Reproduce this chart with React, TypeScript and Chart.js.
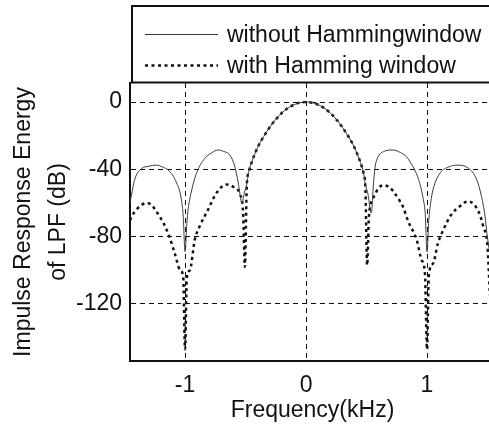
import { useEffect, useRef } from 'react';
import { Chart, registerables } from 'chart.js';

Chart.register(...registerables);

// Frequency (kHz) and energy (dB) of the rectangular-window LPF response
const freqSolid = [
  -1.47, -1.445, -1.416, -1.36, -1.3, -1.237, -1.18, -1.14, -1.07, -1.03, -1.015, -1.0, -0.985, -0.975,
  -0.95, -0.906, -0.837, -0.78, -0.727, -0.68, -0.63, -0.59, -0.56, -0.53, -0.51, -0.49, -0.475, -0.45,
  -0.4, -0.35, -0.3, -0.25, -0.2, -0.15, -0.1, -0.05, 0, 0.05, 0.1, 0.15, 0.2, 0.25, 0.3, 0.35, 0.4,
  0.45, 0.475, 0.49, 0.51, 0.54, 0.556, 0.57, 0.584, 0.64, 0.72, 0.78, 0.82, 0.86, 0.93, 0.97, 0.985,
  1.0, 1.015, 1.03, 1.05, 1.11, 1.18, 1.245, 1.34, 1.41, 1.45, 1.48, 1.495, 1.515,
];
const solidDb = [
  -66, -56, -46, -39.6, -38.2, -37.5, -38.8, -40.4, -48, -58, -68, -89, -72, -64,
  -54, -42.4, -33.5, -30.2, -28.5, -29.4, -31.5, -38, -48, -60, -54, -49, -42, -36,
  -27, -20.5, -15, -10.3, -6.5, -3.6, -1.6, -0.4, 0, -0.4, -1.6, -3.6, -6.5, -10.3, -15, -20.5, -27,
  -36, -42, -49, -54, -66, -50, -39, -34.5, -29.5, -28.5, -30, -31.8, -35.5, -46, -58, -66,
  -89, -70, -60, -52, -42, -38.6, -37.5, -39.2, -46, -56, -68, -78, -88,
];

// Frequency (kHz) and energy (dB) of the Hamming-windowed LPF response
const freqDotted = [
  -1.47, -1.45, -1.39, -1.31, -1.21, -1.14, -1.085, -1.04, -1.015, -1.0, -0.985, -0.96, -0.92, -0.88,
  -0.81, -0.74, -0.655, -0.6, -0.545, -0.52, -0.505, -0.49, -0.475, -0.45, -0.4, -0.35, -0.3, -0.25,
  -0.2, -0.15, -0.1, -0.05, 0, 0.05, 0.1, 0.15, 0.2, 0.25, 0.3, 0.35, 0.4, 0.45, 0.475, 0.49, 0.505,
  0.52, 0.55, 0.57, 0.6, 0.65, 0.694, 0.72, 0.777, 0.8, 0.845, 0.915, 0.956, 0.983, 1.0, 1.015, 1.05,
  1.09, 1.135, 1.2, 1.27, 1.34, 1.425, 1.465, 1.5, 1.52,
];
const dottedDb = [
  -74, -69.5, -63, -60, -68, -78, -90, -100, -104, -147, -104, -100, -82, -74,
  -64, -54, -49, -50.5, -55, -66, -98, -50, -42, -36, -27, -20.5, -15, -10.3,
  -6.5, -3.6, -1.6, -0.4, 0, -0.4, -1.6, -3.6, -6.5, -10.3, -15, -20.5, -27, -36, -42, -50, -97,
  -68, -58, -55, -51, -49.5, -51, -53, -59, -62, -71, -82, -94, -102, -147, -103, -96,
  -84, -76, -67, -62, -59, -65, -74, -86, -115,
];

const xTicks = [-1, 0, 1];
const yTicks = [-120, -80, -40, 0];
const seriesLabels = ['without Hammingwindow', 'with Hamming window'];
const xTitle = 'Frequency(kHz)';
const yTitle = ['Impulse Response Energy', 'of LPF (dB)'];

const FONT = '"Liberation Sans", Arial, sans-serif';
const INK = '#111';

// Boxed legend sitting on top of the plot frame
const boxedLegend = {
  id: 'boxedLegend',
  afterDraw(chart: any) {
    const { ctx, chartArea } = chart;
    const left = chartArea.left + 2;
    const top = 6;
    const bottom = chartArea.top - 0.5;
    const far = chart.width + 10;
    ctx.save();
    ctx.strokeStyle = INK;
    ctx.lineWidth = 2;
    ctx.setLineDash([]);
    ctx.beginPath();
    ctx.moveTo(far, top);
    ctx.lineTo(left, top);
    ctx.lineTo(left, bottom);
    ctx.lineTo(far, bottom);
    ctx.stroke();

    ctx.font = `23px ${FONT}`;
    ctx.textBaseline = 'middle';
    ctx.textAlign = 'left';
    chart.data.datasets.forEach((ds: any, i: number) => {
      const y = top + 28.5 + i * 31;
      ctx.strokeStyle = ds.borderColor;
      ctx.lineWidth = ds.borderWidth;
      ctx.setLineDash(ds.borderDash || []);
      ctx.beginPath();
      ctx.moveTo(left + 13, y);
      ctx.lineTo(left + 86, y);
      ctx.stroke();
      ctx.setLineDash([]);
      ctx.fillStyle = INK;
      ctx.fillText(ds.label, left + 95, y + 1);
    });
    ctx.restore();
  },
};

export default function App() {
  const canvasRef = useRef<HTMLCanvasElement | null>(null);

  useEffect(() => {
    const canvas = canvasRef.current;
    if (!canvas) return;

    const solidPoints = freqSolid.map((f, i) => ({ x: f, y: solidDb[i] }));
    const dottedPoints = freqDotted.map((f, i) => ({ x: f, y: dottedDb[i] }));

    const gridStyle = {
      display: true,
      color: INK,
      lineWidth: 1,
      drawTicks: false,
    };

    const chart = new Chart(canvas, {
      type: 'line',
      data: {
        datasets: [
          {
            label: seriesLabels[0],
            data: solidPoints,
            borderColor: '#3a3a3a',
            borderWidth: 1,
            pointRadius: 0,
            fill: false,
            cubicInterpolationMode: 'monotone',
          },
          {
            label: seriesLabels[1],
            data: dottedPoints,
            borderColor: '#111',
            borderWidth: 2.5,
            borderDash: [3, 3.5],
            pointRadius: 0,
            fill: false,
            cubicInterpolationMode: 'monotone',
          },
        ],
      },
      options: {
        animation: false,
        responsive: false,
        maintainAspectRatio: false,
        devicePixelRatio: 1,
        layout: { padding: { top: 83, left: 0, right: 0, bottom: 0 } },
        plugins: {
          legend: { display: false },
          tooltip: { enabled: false },
        },
        scales: {
          x: {
            type: 'linear',
            min: -1.455,
            max: 1.562,
            afterBuildTicks: (scale: any) => {
              scale.ticks = xTicks.map((v) => ({ value: v }));
            },
            afterFit: (scale: any) => {
              scale.height = 65;
            },
            grid: { ...gridStyle },
            border: { display: true, color: INK, width: 2, dash: [5, 4] },
            ticks: {
              color: INK,
              padding: 11,
              font: { family: FONT, size: 23 },
              maxRotation: 0,
              callback: (v: any) => String(v),
            },
            title: {
              display: true,
              text: xTitle,
              color: INK,
              font: { family: FONT, size: 23, lineHeight: 1.2 },
              padding: { top: 0, bottom: 2 },
            },
          },
          y: {
            type: 'linear',
            min: -153.9,
            max: 11.3,
            afterBuildTicks: (scale: any) => {
              scale.ticks = yTicks.map((v) => ({ value: v }));
            },
            afterFit: (scale: any) => {
              scale.width = 130;
            },
            grid: { ...gridStyle },
            border: { display: true, color: INK, width: 2, dash: [5, 4] },
            ticks: {
              color: INK,
              padding: 8,
              font: { family: FONT, size: 23 },
              callback: (v: any) => String(v),
            },
            title: {
              display: true,
              text: yTitle,
              color: INK,
              font: { family: FONT, size: 23, lineHeight: 1.52 },
              padding: { top: 6, bottom: 0 },
            },
          },
        },
      },
      plugins: [boxedLegend],
    } as any);

    return () => chart.destroy();
  }, []);

  return (
    <div
      style={{
        position: 'absolute',
        left: 0,
        top: 0,
        width: 489,
        height: 426,
        overflow: 'hidden',
        background: '#fff',
      }}
    >
      <canvas ref={canvasRef} width={495} height={426} style={{ display: 'block' }} />
    </div>
  );
}
